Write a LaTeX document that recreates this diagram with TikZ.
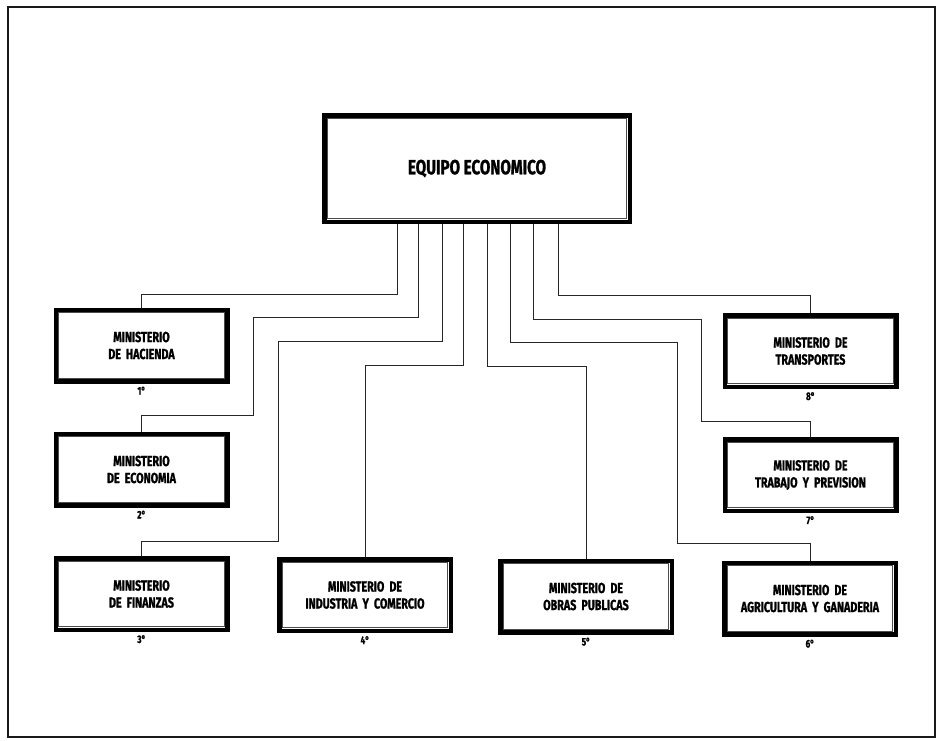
\documentclass[tikz,border=0pt]{standalone}
\usepackage{fontspec}
\newfontfamily\labfont{Fira Sans}[FakeStretch=0.74, FakeBold=1.2]
\tikzset{
  ministry/.style={draw=black, line width=4.5pt, fill=white, minimum width=171.5pt, minimum height=71.5pt, inner sep=0pt, align=center, font=\labfont\bfseries\fontsize{14.5}{17}\selectfont},
  mainbox/.style={ministry, minimum width=305.5pt, minimum height=106.5pt, font=\labfont\bfseries\fontsize{20.5}{24}\selectfont},
  link/.style={draw=black!85, line width=1pt},
  ordlabel/.style={font=\labfont\bfseries\fontsize{11}{12}\selectfont, below=2pt, inner sep=1pt},
  innerline/.style={draw=black!70, line width=1.1pt}
}
\begin{document}
\begin{tikzpicture}[x=1pt,y=-1pt]
\useasboundingbox (0,0) rectangle (938,740);
\draw[line width=1.8pt, black!90] (8,7) rectangle (935,737);

\node[mainbox] (eq) at (477,168.5) {EQUIPO ECONOMICO};
\node[ministry] (hac) at (141.5,345.5) {MINISTERIO\\DE\ \ HACIENDA};
\node[ministry] (eco) at (141.5,469.5) {MINISTERIO\\DE\ \ ECONOMIA};
\node[ministry] (fin) at (141.5,594) {MINISTERIO\\DE\ \ FINANZAS};
\node[ministry] (ind) at (365,595) {MINISTERIO\ \ DE\\INDUSTRIA\ \ Y\ \ COMERCIO};
\node[ministry] (obr) at (586,596.5) {MINISTERIO\ \ DE\\OBRAS\ \ PUBLICAS};
\node[ministry] (agr) at (810,598.5) {MINISTERIO\ \ DE\\AGRICULTURA\ \ Y\ \ GANADERIA};
\node[ministry] (tra) at (810.5,475) {MINISTERIO\ \ DE\\TRABAJO\ \ Y\ \ PREVISION};
\node[ministry] (tsp) at (810.5,351) {MINISTERIO\ \ DE\\TRANSPORTES};

\foreach \n in {eq,hac,eco,fin,ind,obr,agr,tra,tsp}{
  \draw[innerline] ([xshift=5.2pt,yshift=-5.2pt]\n.north west) rectangle ([xshift=-5.2pt,yshift=5.2pt]\n.south east);
}

\node[ordlabel] (o1) at (hac.south) {1°};
\node[ordlabel] (o2) at (eco.south) {2°};
\node[ordlabel] (o3) at (fin.south) {3°};
\node[ordlabel] (o4) at (ind.south) {4°};
\node[ordlabel] (o5) at (obr.south) {5°};
\node[ordlabel] (o6) at (agr.south) {6°};
\node[ordlabel] (o7) at (tra.south) {7°};
\node[ordlabel] (o8) at (tsp.south) {8°};

\draw[link] (eq.south -| 397,0) |- (hac.north |- 0,294) -- (hac.north);
\draw[link] (eq.south -| 418,0) |- (253,317) |- (eco.north |- 0,415) -- (eco.north);
\draw[link] (eq.south -| 442,0) |- (278,341) |- (fin.north |- 0,541) -- (fin.north);
\draw[link] (eq.south -| 463,0) |- (ind.north |- 0,365) -- (ind.north);
\draw[link] (eq.south -| 487,0) |- (obr.north |- 0,366) -- (obr.north);
\draw[link] (eq.south -| 510,0) |- (677,342) |- (agr.north |- 0,543) -- (agr.north);
\draw[link] (eq.south -| 533,0) |- (701,319) |- (tra.north |- 0,421) -- (tra.north);
\draw[link] (eq.south -| 558,0) |- (tsp.north |- 0,295) -- (tsp.north);
\end{tikzpicture}
\end{document}
